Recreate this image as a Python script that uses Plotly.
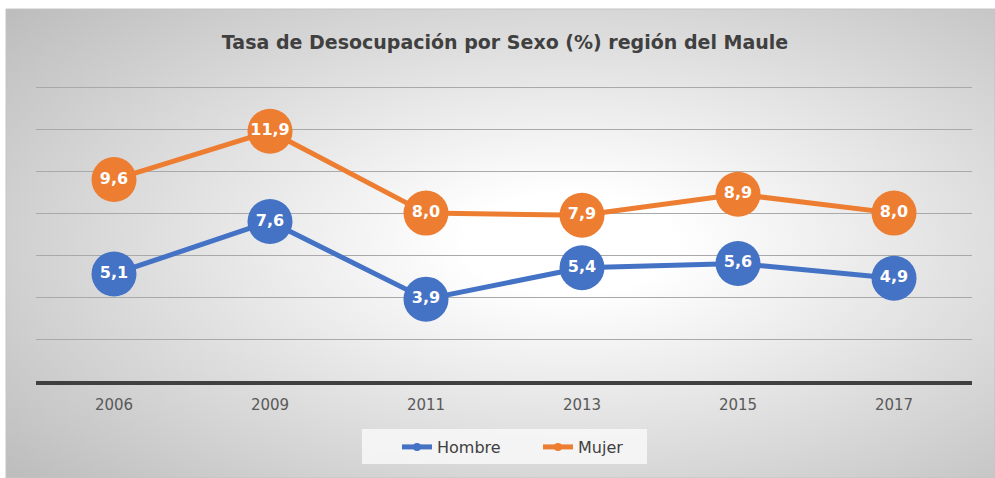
import base64
import plotly.graph_objects as go

years = ["2006", "2009", "2011", "2013", "2015", "2017"]
hombre = [5.1, 7.6, 3.9, 5.4, 5.6, 4.9]
mujer = [9.6, 11.9, 8.0, 7.9, 8.9, 8.0]
title_text = "Tasa de Desocupación por Sexo (%) región del Maule"

BLUE = "#4472C4"
ORANGE = "#ED7D31"

W, H = 995, 478
L, R, T, B = 36, 23, 83, 97
pw, ph = W - L - R, H - T - B

svg = (
    '<svg xmlns="http://www.w3.org/2000/svg" width="1000" height="500" preserveAspectRatio="none" viewBox="0 0 1000 500">'
    '<defs><radialGradient id="g" cx="0.57" cy="0.5" r="0.75">'
    '<stop offset="0" stop-color="#ffffff"/>'
    '<stop offset="0.14" stop-color="#ffffff"/>'
    '<stop offset="1" stop-color="#bdbdbd"/>'
    '</radialGradient></defs>'
    '<rect x="0" y="0" width="1000" height="500" fill="url(#g)"/></svg>'
)
src = "data:image/svg+xml;base64," + base64.b64encode(svg.encode()).decode()

bx0, by0, bx1, by1 = 6, 9, 995, 478
img_x = (bx0 - L) / pw
img_y = (H - B - by0) / ph
img_sx = (bx1 - bx0) / pw
img_sy = (by1 - by0) / ph


def px_x(p):
    return (p - L) / pw


def px_y(p):
    return (H - B - p) / ph


fig = go.Figure()
for name, vals, col in [("Hombre", hombre, BLUE), ("Mujer", mujer, ORANGE)]:
    fig.add_trace(go.Scatter(
        x=years, y=vals, name=name, mode="lines+markers+text",
        line=dict(color=col, width=5),
        marker=dict(color=col, size=45),
        texttemplate="%{y:.1f}", textposition="middle center",
        textfont=dict(family="DejaVu Sans", size=16, color="white", weight="bold"),
        cliponaxis=False, showlegend=False,
    ))
# legend-only entries with small markers
for name, col in [("Hombre", BLUE), ("Mujer", ORANGE)]:
    fig.add_trace(go.Scatter(
        x=[None], y=[None], name=name, mode="lines+markers",
        line=dict(color=col, width=5), marker=dict(color=col, size=8),
        showlegend=True,
    ))

fig.update_layout(
    width=W, height=H,
    margin=dict(l=L, r=R, t=T, b=B),
    separators=",.",
    paper_bgcolor="white",
    plot_bgcolor="rgba(0,0,0,0)",
    font=dict(family="DejaVu Sans", color="#595959"),
    title=dict(text=title_text, x=505 / W, xanchor="center", y=1 - 42 / H, yanchor="middle",
               font=dict(family="DejaVu Sans", size=19, color="#404040", weight="bold")),
    xaxis=dict(range=[-0.5, 5.5], showgrid=False, showline=True, linecolor="#404040", linewidth=4,
               ticks="outside", ticklen=7, tickcolor="rgba(0,0,0,0)",
               tickfont=dict(size=15, color="#595959"), zeroline=False),
    yaxis=dict(range=[0, 14.2], tickvals=[2, 4, 6, 8, 10, 12, 14], showgrid=True,
               gridcolor="#a9a9a9", gridwidth=1,
               showticklabels=False, zeroline=False, showline=False),
    showlegend=True,
    legend=dict(orientation="h", x=px_x(538), xanchor="center",
                y=px_y(447), yanchor="middle",
                bgcolor="rgba(0,0,0,0)", entrywidth=96,
                font=dict(size=16, color="#404040")),
    images=[dict(source=src, xref="paper", yref="paper", x=img_x, y=img_y,
                 sizex=img_sx, sizey=img_sy, xanchor="left", yanchor="top",
                 sizing="stretch", layer="below")],
    shapes=[
        dict(type="rect", xref="paper", yref="paper", x0=img_x, y0=img_y - img_sy,
             x1=img_x + img_sx, y1=img_y, line=dict(color="#c4c4c4", width=1), layer="below"),
        dict(type="rect", xref="paper", yref="paper", x0=px_x(362), x1=px_x(647),
             y0=px_y(464), y1=px_y(429), line=dict(width=0),
             fillcolor="rgba(248,248,248,0.85)", layer="below"),
    ],
)

fig.write_html("out.html", config={"displayModeBar": False},
               post_script="document.body.style.margin='0';document.body.style.overflow='hidden';")
